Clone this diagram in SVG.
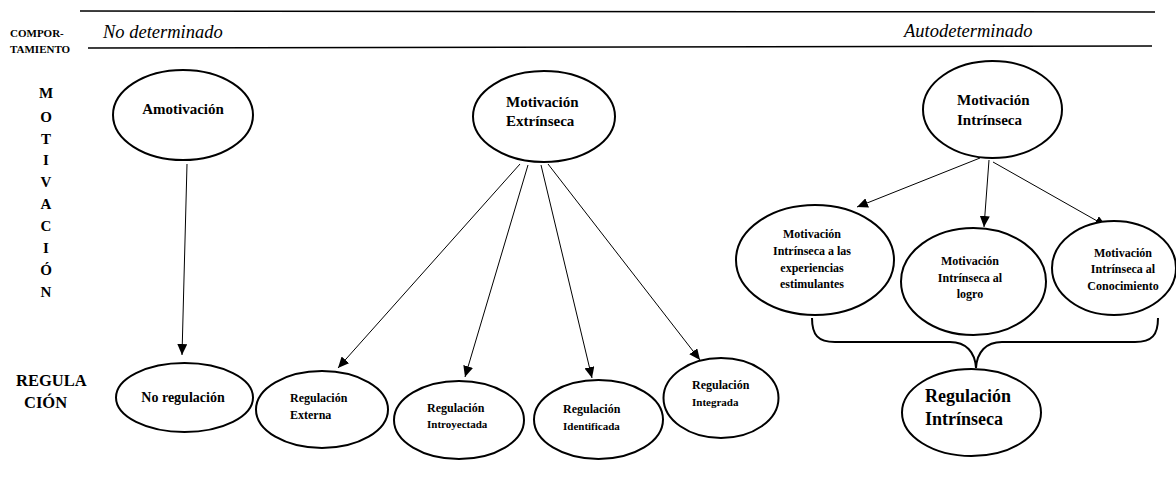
<svg xmlns="http://www.w3.org/2000/svg" width="1176" height="490" viewBox="0 0 1176 490" font-family="'Liberation Serif', 'Times New Roman', 'DejaVu Serif', serif">
<defs>
<marker id="ah" markerUnits="userSpaceOnUse" markerWidth="12" markerHeight="10" refX="11" refY="5" orient="auto">
<path d="M0,0 L11,5 L0,10 Z" fill="#000"/>
</marker>
<style>
.n{fill:#fff;stroke:#000;stroke-width:2}
.t{font-family:'Liberation Serif','Times New Roman',serif;font-weight:bold;fill:#000}
.i{font-family:'Liberation Serif','Times New Roman',serif;font-style:italic;fill:#000;font-size:18.5px}
.c{stroke:#000;stroke-width:1;fill:none}
.rule{stroke:#000;stroke-width:1.5}
</style>
</defs>
<rect width="1176" height="490" fill="#fff"/>
<g id="header">
<line class="rule" x1="80" y1="11" x2="1155" y2="12"/>
<line class="rule" x1="88" y1="48" x2="1152" y2="46"/>
<text class="t" x="10" y="37" font-size="11">COMPOR-</text>
<text class="t" x="10" y="53" font-size="11">TAMIENTO</text>
<text class="i" x="103" y="38">No determinado</text>
<text class="i" x="904" y="37">Autodeterminado</text>
</g>
<g id="label-motivacion" class="t" font-size="15" text-anchor="middle">
<text x="46" y="98">M</text>
<text x="46" y="122">O</text>
<text x="46" y="144">T</text>
<text x="46" y="165">I</text>
<text x="46" y="187">V</text>
<text x="46" y="209">A</text>
<text x="46" y="231">C</text>
<text x="46" y="253">I</text>
<text x="46" y="275">Ó</text>
<text x="46" y="297">N</text>
</g>
<g id="label-regulacion" class="t" font-size="16.5">
<text x="16" y="386">REGULA</text>
<text x="24" y="408">CIÓN</text>
</g>
<g id="connectors">
<line class="c" x1="187" y1="164" x2="182" y2="355" marker-end="url(#ah)"/>
<line class="c" x1="520" y1="164" x2="338" y2="368" marker-end="url(#ah)"/>
<line class="c" x1="528" y1="165" x2="465" y2="377" marker-end="url(#ah)"/>
<line class="c" x1="541" y1="165" x2="592" y2="378" marker-end="url(#ah)"/>
<line class="c" x1="548" y1="164" x2="700" y2="360" marker-end="url(#ah)"/>
<line class="c" x1="980" y1="158" x2="857" y2="207" marker-end="url(#ah)"/>
<line class="c" x1="989" y1="160" x2="984" y2="227" marker-end="url(#ah)"/>
<line class="c" x1="993" y1="162" x2="1106" y2="226" marker-end="url(#ah)"/>
<path d="M812,318 C812,335 818,342 835,342 L950,342 C966,342 975,352 976,368 C977,352 986,342 1002,342 L1135,342 C1152,342 1158,335 1158,318" fill="none" stroke="#000" stroke-width="2"/>
</g>
<g id="amotivacion">
<ellipse class="n" cx="183" cy="115" rx="70" ry="45"/>
<text class="t" x="183" y="114" font-size="15" text-anchor="middle">Amotivación</text>
</g>
<g id="motivacion-extrinseca">
<ellipse class="n" cx="544" cy="116.5" rx="71" ry="45.5"/>
<text class="t" x="506" y="107" font-size="15">Motivación</text>
<text class="t" x="506" y="126" font-size="15">Extrínseca</text>
</g>
<g id="motivacion-intrinseca">
<ellipse class="n" cx="992.5" cy="109.5" rx="69.5" ry="48.5"/>
<text class="t" x="957" y="105" font-size="15">Motivación</text>
<text class="t" x="957" y="125" font-size="15">Intrínseca</text>
</g>
<g id="mi-experiencias">
<ellipse class="n" cx="815" cy="260" rx="79" ry="55"/>
<g class="t" font-size="12" text-anchor="middle">
<text x="812" y="238">Motivación</text>
<text x="812" y="255">Intrínseca a las</text>
<text x="812" y="272">experiencias</text>
<text x="812" y="288">estimulantes</text>
</g>
</g>
<g id="mi-logro">
<ellipse class="n" cx="973.5" cy="281.5" rx="72.5" ry="53.5"/>
<g class="t" font-size="12" text-anchor="middle">
<text x="970" y="265">Motivación</text>
<text x="970" y="282">Intrínseca al</text>
<text x="970" y="298">logro</text>
</g>
</g>
<g id="mi-conocimiento">
<ellipse class="n" cx="1114" cy="268" rx="62" ry="47"/>
<g class="t" font-size="12" text-anchor="middle">
<text x="1123" y="257">Motivación</text>
<text x="1123" y="273">Intrínseca al</text>
<text x="1123" y="290">Conocimiento</text>
</g>
</g>
<g id="no-regulacion">
<ellipse class="n" cx="184.5" cy="397.5" rx="68.5" ry="34.5"/>
<text class="t" x="183" y="402" font-size="14" text-anchor="middle">No regulación</text>
</g>
<g id="regulacion-externa">
<ellipse class="n" cx="322" cy="409.5" rx="66" ry="38.5"/>
<text class="t" x="290" y="402" font-size="12">Regulación</text>
<text class="t" x="290" y="419" font-size="12">Externa</text>
</g>
<g id="regulacion-introyectada">
<ellipse class="n" cx="459" cy="420" rx="65" ry="39"/>
<text class="t" x="427" y="412" font-size="12">Regulación</text>
<text class="t" x="427" y="428" font-size="11">Introyectada</text>
</g>
<g id="regulacion-identificada">
<ellipse class="n" cx="598.5" cy="419.5" rx="64.5" ry="39.5"/>
<text class="t" x="563" y="413" font-size="12">Regulación</text>
<text class="t" x="563" y="430" font-size="11">Identificada</text>
</g>
<g id="regulacion-integrada">
<ellipse class="n" cx="721" cy="398" rx="57.5" ry="40"/>
<text class="t" x="692" y="389" font-size="12">Regulación</text>
<text class="t" x="692" y="406" font-size="11">Integrada</text>
</g>
<g id="regulacion-intrinseca">
<ellipse class="n" cx="971.5" cy="412.5" rx="69.5" ry="43.5"/>
<text class="t" x="925" y="402" font-size="18">Regulación</text>
<text class="t" x="925" y="425" font-size="18">Intrínseca</text>
</g>
</svg>
